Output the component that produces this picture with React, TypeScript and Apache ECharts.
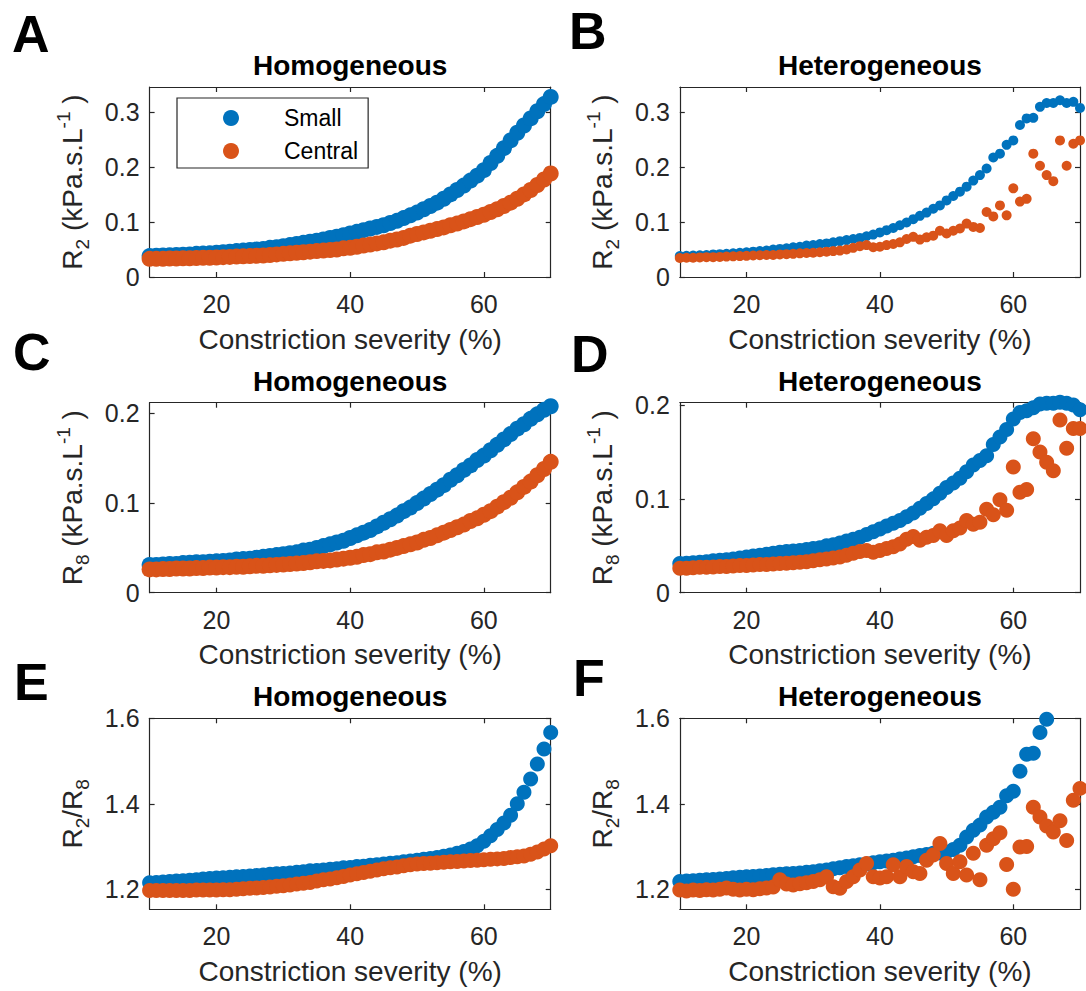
import React, { useEffect, useRef } from 'react';
import * as echarts from 'echarts';

const FONT = '"Liberation Sans", Arial, Helvetica, sans-serif';
const AX = '#262626';
const BLUE = '#0072BD';
const ORANGE = '#D95319';

// Constriction severity (%) — x values shared by all panels
const severity = [
  10, 11, 12, 13, 14, 15, 16, 17, 18, 19, 20, 21, 22, 23, 24, 25, 26, 27, 28, 29,
  30, 31, 32, 33, 34, 35, 36, 37, 38, 39, 40, 41, 42, 43, 44, 45, 46, 47, 48, 49,
  50, 51, 52, 53, 54, 55, 56, 57, 58, 59, 60, 61, 62, 63, 64, 65, 66, 67, 68, 69, 70,
];

const xTicks = [20, 40, 60];
const r2Ticks = [0, 0.1, 0.2, 0.3];
const r8Ticks = [0, 0.1, 0.2];
const ratioTicks = [1.2, 1.4, 1.6];

// A: Homogeneous R2
const homSmallR2 = [
  0.038, 0.0385, 0.039, 0.0395, 0.040, 0.0405, 0.041, 0.042, 0.0425, 0.043,
  0.044, 0.045, 0.046, 0.047, 0.048, 0.049, 0.050, 0.051, 0.053, 0.054,
  0.056, 0.058, 0.060, 0.062, 0.064, 0.066, 0.068, 0.071, 0.073, 0.076,
  0.079, 0.082, 0.085, 0.088, 0.091, 0.094, 0.098, 0.102, 0.107, 0.112,
  0.117, 0.123, 0.129, 0.135, 0.142, 0.150, 0.158, 0.166, 0.175, 0.184,
  0.194, 0.207, 0.220, 0.234, 0.248, 0.262, 0.275, 0.288, 0.301, 0.314, 0.327,
];
const homCentralR2 = [
  0.033, 0.033, 0.033, 0.0335, 0.0335, 0.034, 0.034, 0.0345, 0.035, 0.035,
  0.0355, 0.036, 0.0365, 0.037, 0.0375, 0.038, 0.0385, 0.039, 0.040, 0.041,
  0.042, 0.043, 0.044, 0.045, 0.046, 0.047, 0.048, 0.049, 0.050, 0.052,
  0.053, 0.055, 0.057, 0.059, 0.061, 0.063, 0.066, 0.068, 0.071, 0.075,
  0.078, 0.081, 0.084, 0.087, 0.090, 0.094, 0.097, 0.101, 0.105, 0.109,
  0.113, 0.118, 0.123, 0.129, 0.135, 0.142, 0.150, 0.158, 0.167, 0.177, 0.188,
];

// B: Heterogeneous R2
const hetSmallR2 = [
  0.038, 0.0385, 0.039, 0.0395, 0.040, 0.041, 0.0415, 0.042, 0.043, 0.044,
  0.045, 0.046, 0.047, 0.048, 0.050, 0.051, 0.052, 0.054, 0.055, 0.057,
  0.058, 0.060, 0.061, 0.063, 0.065, 0.067, 0.069, 0.071, 0.074, 0.077,
  0.081, 0.085, 0.089, 0.094, 0.099, 0.105, 0.111, 0.117, 0.124, 0.130,
  0.139, 0.147, 0.155, 0.164, 0.175, 0.185, 0.197, 0.217, 0.224, 0.240,
  0.248, 0.276, 0.288, 0.289, 0.309, 0.316, 0.316, 0.321, 0.316, 0.318, 0.307,
];
const hetCentralR2 = [
  0.0345, 0.035, 0.035, 0.0355, 0.036, 0.036, 0.0365, 0.037, 0.0375, 0.038,
  0.0385, 0.039, 0.0395, 0.040, 0.040, 0.041, 0.0415, 0.042, 0.043, 0.0435,
  0.044, 0.045, 0.046, 0.047, 0.048, 0.050, 0.053, 0.056, 0.058, 0.054,
  0.055, 0.058, 0.060, 0.063, 0.069, 0.073, 0.068, 0.072, 0.075, 0.084,
  0.079, 0.084, 0.088, 0.097, 0.091, 0.089, 0.118, 0.110, 0.130, 0.112,
  0.161, 0.137, 0.142, 0.224, 0.202, 0.185, 0.174, 0.248, 0.202, 0.242, 0.248,
];

// C: Homogeneous R8
const homSmallR8 = [
  0.031, 0.031, 0.0315, 0.032, 0.032, 0.033, 0.0335, 0.034, 0.034, 0.0345,
  0.035, 0.0355, 0.036, 0.037, 0.0375, 0.038, 0.039, 0.040, 0.041, 0.042,
  0.043, 0.044, 0.045, 0.047, 0.048, 0.050, 0.052, 0.054, 0.056, 0.058,
  0.061, 0.064, 0.067, 0.070, 0.074, 0.078, 0.082, 0.086, 0.091, 0.095,
  0.100, 0.105, 0.110, 0.115, 0.120, 0.126, 0.131, 0.137, 0.142, 0.148,
  0.153, 0.159, 0.165, 0.171, 0.177, 0.183, 0.188, 0.194, 0.199, 0.204, 0.208,
];
const homCentralR8 = [
  0.026, 0.026, 0.0265, 0.0265, 0.027, 0.027, 0.027, 0.0275, 0.0275, 0.028,
  0.028, 0.0285, 0.0285, 0.029, 0.029, 0.0295, 0.030, 0.030, 0.0305, 0.031,
  0.0315, 0.032, 0.0325, 0.033, 0.034, 0.035, 0.0355, 0.036, 0.037, 0.038,
  0.039, 0.040, 0.042, 0.043, 0.045, 0.046, 0.048, 0.050, 0.052, 0.054,
  0.056, 0.059, 0.061, 0.064, 0.067, 0.070, 0.073, 0.076, 0.080, 0.083,
  0.087, 0.091, 0.096, 0.101, 0.106, 0.112, 0.118, 0.124, 0.131, 0.138, 0.146,
];

// D: Heterogeneous R8
const hetSmallR8 = [
  0.031, 0.0315, 0.032, 0.0325, 0.033, 0.034, 0.0345, 0.035, 0.036, 0.037,
  0.038, 0.039, 0.040, 0.041, 0.042, 0.043, 0.044, 0.0445, 0.045, 0.046,
  0.047, 0.048, 0.050, 0.051, 0.053, 0.055, 0.057, 0.059, 0.062, 0.065,
  0.068, 0.071, 0.074, 0.077, 0.081, 0.085, 0.090, 0.095, 0.100, 0.106,
  0.112, 0.117, 0.122, 0.129, 0.136, 0.141, 0.146, 0.158, 0.166, 0.174,
  0.185, 0.192, 0.194, 0.197, 0.201, 0.202, 0.202, 0.203, 0.202, 0.200, 0.195,
];
const hetCentralR8 = [
  0.026, 0.026, 0.0265, 0.027, 0.027, 0.0275, 0.028, 0.028, 0.0285, 0.029,
  0.029, 0.0295, 0.030, 0.030, 0.0305, 0.031, 0.0315, 0.032, 0.0325, 0.033,
  0.034, 0.035, 0.036, 0.037, 0.038, 0.040, 0.042, 0.044, 0.045, 0.043,
  0.045, 0.047, 0.049, 0.052, 0.057, 0.060, 0.056, 0.059, 0.061, 0.066,
  0.061, 0.066, 0.069, 0.077, 0.073, 0.075, 0.089, 0.083, 0.099, 0.088,
  0.134, 0.107, 0.110, 0.164, 0.150, 0.139, 0.130, 0.184, 0.154, 0.175, 0.175,
];

// E: Homogeneous R2/R8
const homSmallRatio = [
  1.215, 1.216, 1.217, 1.218, 1.219, 1.220, 1.221, 1.222, 1.224, 1.225,
  1.226, 1.227, 1.228, 1.229, 1.230, 1.231, 1.232, 1.233, 1.235, 1.236,
  1.237, 1.238, 1.240, 1.241, 1.243, 1.244, 1.245, 1.247, 1.248, 1.250,
  1.251, 1.253, 1.254, 1.256, 1.257, 1.259, 1.261, 1.262, 1.264, 1.266,
  1.268, 1.270, 1.272, 1.274, 1.277, 1.280, 1.284, 1.288, 1.294, 1.302,
  1.312, 1.325, 1.340, 1.355, 1.373, 1.400, 1.427, 1.458, 1.493, 1.528, 1.567,
];
const homCentralRatio = [
  1.197, 1.197, 1.197, 1.197, 1.197, 1.197, 1.197, 1.198, 1.198, 1.198,
  1.198, 1.199, 1.199, 1.200, 1.201, 1.202, 1.203, 1.204, 1.205, 1.207,
  1.208, 1.210, 1.212, 1.214, 1.216, 1.219, 1.222, 1.224, 1.227, 1.230,
  1.233, 1.236, 1.239, 1.242, 1.245, 1.248, 1.250, 1.252, 1.255, 1.257,
  1.259, 1.260, 1.261, 1.262, 1.263, 1.264, 1.265, 1.266, 1.267, 1.268,
  1.269, 1.270, 1.271, 1.272, 1.274, 1.276, 1.278, 1.282, 1.287, 1.294, 1.302,
];

// F: Heterogeneous R2/R8
const hetSmallRatio = [
  1.218, 1.219, 1.220, 1.221, 1.222, 1.223, 1.224, 1.225, 1.227, 1.228,
  1.229, 1.230, 1.231, 1.232, 1.234, 1.235, 1.236, 1.237, 1.238, 1.240,
  1.241, 1.243, 1.245, 1.248, 1.250, 1.253, 1.255, 1.257, 1.259, 1.262,
  1.264, 1.266, 1.268, 1.271, 1.273, 1.276, 1.279, 1.281, 1.284, 1.285,
  1.287, 1.293, 1.303, 1.322, 1.338, 1.350, 1.369, 1.380, 1.392, 1.419,
  1.429, 1.476, 1.516, 1.518, 1.567, 1.598, null, null, null, null, null,
];
const hetCentralRatio = [
  1.198, 1.196, 1.198, 1.197, 1.199, 1.198, 1.200, 1.203, 1.200, 1.198,
  1.200, 1.199, 1.201, 1.203, 1.205, 1.222, 1.212, 1.210, 1.213, 1.215,
  1.218, 1.222, 1.229, 1.206, 1.202, 1.218, 1.229, 1.245, 1.260, 1.229,
  1.226, 1.229, 1.257, 1.229, 1.253, 1.241, 1.237, 1.268, 1.280, 1.307,
  1.260, 1.237, 1.264, 1.233, 1.284, 1.222, 1.303, 1.318, 1.332, 1.258,
  1.200, 1.299, 1.300, 1.392, 1.369, 1.348, 1.334, 1.360, 1.314, 1.408, 1.436,
];

const seriesNames = ['Small', 'Central'];
const panelLetters = ['A', 'B', 'C', 'D', 'E', 'F'];
const panelTitles = ['Homogeneous', 'Heterogeneous', 'Homogeneous', 'Heterogeneous', 'Homogeneous', 'Heterogeneous'];

type Panel = {
  small: (number | null)[];
  central: (number | null)[];
  ymin: number;
  ymax: number;
  ticks: number[];
  ylabel: string;
  size: number;
};

const R2_LABEL = '{r|R}{sub|2}{r| (kPa.s.L}{sup|-1}{r| )}';
const R8_LABEL = '{r|R}{sub|8}{r| (kPa.s.L}{sup|-1}{r| )}';
const RATIO_LABEL = '{r|R}{sub|2}{r|/R}{sub|8}';

const panels: Panel[] = [
  { small: homSmallR2, central: homCentralR2, ymin: 0, ymax: 0.345, ticks: r2Ticks, ylabel: R2_LABEL, size: 16 },
  { small: hetSmallR2, central: hetCentralR2, ymin: 0, ymax: 0.345, ticks: r2Ticks, ylabel: R2_LABEL, size: 10 },
  { small: homSmallR8, central: homCentralR8, ymin: 0, ymax: 0.212, ticks: r8Ticks, ylabel: R8_LABEL, size: 16 },
  { small: hetSmallR8, central: hetCentralR8, ymin: 0, ymax: 0.2025, ticks: r8Ticks, ylabel: R8_LABEL, size: 15 },
  { small: homSmallRatio, central: homCentralRatio, ymin: 1.153, ymax: 1.6, ticks: ratioTicks, ylabel: RATIO_LABEL, size: 15 },
  { small: hetSmallRatio, central: hetCentralRatio, ymin: 1.153, ymax: 1.6, ticks: ratioTicks, ylabel: RATIO_LABEL, size: 15 },
];

// layout (pixels)
const COL_LEFT = [149.6, 679.8];
const COL_WIDTH = [401.1, 400.2];
const ROW_TOP = [87, 402.7, 718.3];
const ROW_HEIGHT = [190, 190, 191];
const LETTER_POS = [
  [12, 34], [569, 31], [13, 352], [571, 354], [14, 682], [573, 678],
];

const toPoints = (vals: (number | null)[]) =>
  severity.map((x, i) => [x, vals[i]]).filter((p) => p[1] !== null);

function buildOption() {
  const grid: any[] = [];
  const xAxis: any[] = [];
  const yAxis: any[] = [];
  const series: any[] = [];
  const graphic: any[] = [];

  const richStyle = {
    r: { fontSize: 28, fontFamily: FONT, color: AX, lineHeight: 38, verticalAlign: 'middle' },
    sub: { fontSize: 19, fontFamily: FONT, color: AX, lineHeight: 19, verticalAlign: 'bottom' },
    sup: { fontSize: 19, fontFamily: FONT, color: AX, lineHeight: 19, verticalAlign: 'top' },
  };

  panels.forEach((p, i) => {
    const col = i % 2;
    const row = Math.floor(i / 2);
    const left = COL_LEFT[col];
    const top = ROW_TOP[row];
    const width = COL_WIDTH[col];
    const height = ROW_HEIGHT[row];
    grid.push({ left, top, width, height, containLabel: false, show: false });

    const lineStyle = { color: AX, width: 1.2 };
    xAxis.push({
      gridIndex: i, type: 'value', min: 10, max: 70, position: 'bottom',
      axisLine: { show: true, onZero: false, lineStyle },
      axisTick: { show: true, inside: true, length: 5, customValues: xTicks, lineStyle },
      axisLabel: { show: true, customValues: xTicks, fontSize: 25, lineHeight: 26, color: AX, fontFamily: FONT, margin: 14 },
      splitLine: { show: false },
      name: 'Constriction severity (%)', nameLocation: 'middle', nameGap: 47,
      nameTextStyle: { fontSize: 28, lineHeight: 30, color: AX, fontFamily: FONT },
    });
    xAxis.push({
      gridIndex: i, type: 'value', min: 10, max: 70, position: 'top',
      axisLine: { show: true, onZero: false, lineStyle },
      axisTick: { show: true, inside: true, length: 5, customValues: xTicks, lineStyle },
      axisLabel: { show: false },
      splitLine: { show: false },
    });
    yAxis.push({
      gridIndex: i, type: 'value', min: p.ymin, max: p.ymax, position: 'left',
      axisLine: { show: true, onZero: false, lineStyle },
      axisTick: { show: true, inside: true, length: 5, customValues: p.ticks, lineStyle },
      axisLabel: { show: true, customValues: p.ticks, fontSize: 25, color: AX, fontFamily: FONT, margin: 10 },
      splitLine: { show: false },
      name: p.ylabel, nameLocation: 'middle', nameGap: 58,
      nameTextStyle: { rich: richStyle },
    });
    yAxis.push({
      gridIndex: i, type: 'value', min: p.ymin, max: p.ymax, position: 'right',
      axisLine: { show: true, onZero: false, lineStyle },
      axisTick: { show: true, inside: true, length: 5, customValues: p.ticks, lineStyle },
      axisLabel: { show: false },
      splitLine: { show: false },
    });

    series.push({
      name: seriesNames[0], type: 'scatter', xAxisIndex: 2 * i, yAxisIndex: 2 * i,
      data: toPoints(p.small), symbol: 'circle', symbolSize: p.size, clip: false,
      itemStyle: { color: BLUE, opacity: 1 },
    });
    series.push({
      name: seriesNames[1], type: 'scatter', xAxisIndex: 2 * i, yAxisIndex: 2 * i,
      data: toPoints(p.central), symbol: 'circle', symbolSize: p.size, clip: false,
      itemStyle: { color: ORANGE, opacity: 1 },
    });

    graphic.push({
      type: 'text', x: left + width / 2, y: top - 21.5, z: 10,
      style: {
        text: panelTitles[i], fill: '#000', fontSize: 28, fontWeight: 'bold', fontFamily: FONT,
        align: 'center', verticalAlign: 'middle', textAlign: 'center', textVerticalAlign: 'middle',
      },
    });
    graphic.push({
      type: 'text', x: LETTER_POS[i][0], y: LETTER_POS[i][1], z: 10,
      style: {
        text: panelLetters[i], fill: '#000', fontSize: 52, fontWeight: 'bold', fontFamily: FONT,
        align: 'left', verticalAlign: 'middle', textAlign: 'left', textVerticalAlign: 'middle',
      },
    });
  });

  return {
    animation: false,
    backgroundColor: '#ffffff',
    textStyle: { fontFamily: FONT },
    grid, xAxis, yAxis, series, graphic,
    legend: {
      data: seriesNames, left: 177, top: 98, orient: 'vertical',
      icon: 'circle', itemWidth: 16, itemHeight: 16, itemGap: 9,
      padding: [8, 10, 5, 46], borderColor: AX, borderWidth: 1.2, backgroundColor: '#fff',
      textStyle: { fontSize: 23, lineHeight: 24, color: '#000', fontFamily: FONT, padding: [0, 0, 0, 40] },
      selectedMode: false,
    },
  };
}

export default function App() {
  const ref = useRef<HTMLDivElement>(null);
  useEffect(() => {
    if (!ref.current) return;
    const chart = echarts.init(ref.current, null, { renderer: 'svg' });
    chart.setOption(buildOption() as any);
    return () => chart.dispose();
  }, []);
  return (
    <div
      ref={ref}
      style={{ position: 'absolute', left: 0, top: 0, width: 1086, height: 991, background: '#fff' }}
    />
  );
}
